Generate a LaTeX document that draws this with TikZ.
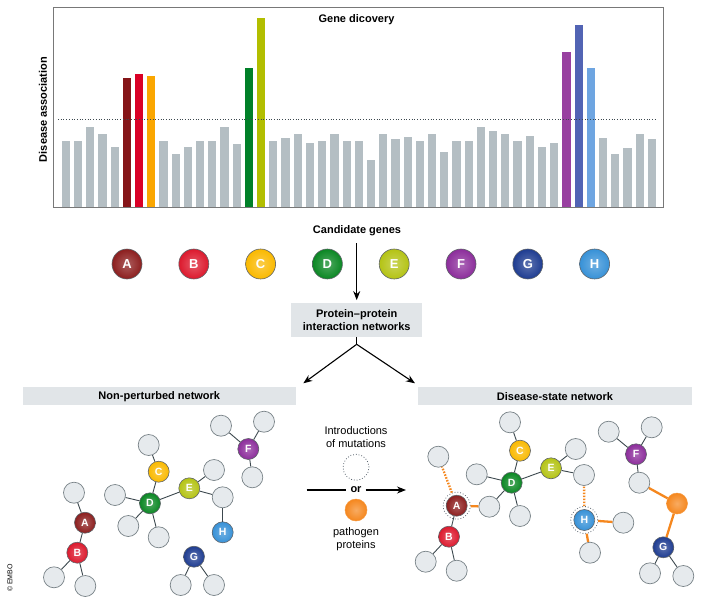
\documentclass[tikz,border=0pt]{standalone}
\usepackage{fontspec}
\setmainfont{Liberation Sans}
\usetikzlibrary{arrows.meta}
\definecolor{barg}{RGB}{180,190,195}
\definecolor{barA}{RGB}{133,21,24}
\definecolor{barB}{RGB}{218,0,38}
\definecolor{barC}{RGB}{250,166,0}
\definecolor{barD}{RGB}{0,128,40}
\definecolor{barE}{RGB}{178,190,0}
\definecolor{barF}{RGB}{152,64,160}
\definecolor{barG}{RGB}{82,100,180}
\definecolor{barH}{RGB}{110,165,225}
\definecolor{cA}{RGB}{140,30,30}
\definecolor{cB}{RGB}{220,25,45}
\definecolor{cC}{RGB}{250,185,0}
\definecolor{cD}{RGB}{10,135,35}
\definecolor{cE}{RGB}{180,195,20}
\definecolor{cF}{RGB}{140,45,155}
\definecolor{cG}{RGB}{30,60,145}
\definecolor{cH}{RGB}{55,145,215}
\definecolor{orng}{RGB}{245,135,30}
\definecolor{edgec}{RGB}{60,72,78}
\definecolor{gfill}{RGB}{230,234,237}
\definecolor{gstroke}{RGB}{120,130,135}
\definecolor{cstroke}{RGB}{95,100,105}
\definecolor{bandc}{RGB}{225,229,232}
\definecolor{ringc}{RGB}{90,100,110}
\definecolor{framec}{RGB}{120,120,120}
\begin{document}
\begin{tikzpicture}[x=1pt,y=-1pt,
  edge/.style={draw=edgec, line width=0.9pt},
  oedge/.style={draw=orng, line width=2.3pt},
  odot/.style={draw=orng, line width=2.3pt, dash pattern=on 1.6pt off 1.4pt},
  gnode/.style={circle, draw=gstroke, fill=gfill, line width=0.7pt, minimum size=21pt, inner sep=0pt},
  cnode/.style={circle, draw=cstroke, line width=0.6pt, minimum size=21pt, inner sep=0pt, text=white,
     font=\bfseries\fontsize{10.5}{10.5}\selectfont, inner color=#1!72!white, outer color=#1},
  bignode/.style={cnode=#1, minimum size=30pt, font=\bfseries\fontsize{13}{13}\selectfont},
  ring/.style={circle, draw=ringc, dotted, line width=0.8pt, minimum size=27pt, inner sep=0pt},
  band/.style={fill=bandc, inner sep=0pt, minimum height=17.7pt, minimum width=273.4pt, font=\bfseries\fontsize{11}{13}\selectfont},
  lbl/.style={font=\fontsize{11}{13.4}\selectfont, align=center},
  blbl/.style={font=\bfseries\fontsize{11}{13.4}\selectfont, align=center},
  arr/.style={-{Stealth[length=9pt,width=7pt]}, line width=1.1pt}]
\useasboundingbox (0,0) rectangle (712,605);
% ---------- bar chart ----------
\foreach \i/\t/\c in {0/140.7/barg,1/140.7/barg,2/127.3/barg,3/134/barg,4/147/barg,5/77.7/barA,6/74/barB,7/76.3/barC,8/140.7/barg,9/154/barg,10/147/barg,11/140.7/barg,12/140.7/barg,13/127.3/barg,14/144/barg,15/67.7/barD,16/18/barE,17/140.7/barg,18/137.7/barg,19/134/barg,20/142.7/barg,21/140.7/barg,22/134/barg,23/141.3/barg,24/140.7/barg,25/160.3/barg,26/134.3/barg,27/138.7/barg,28/137.3/barg,29/140.7/barg,30/134.3/barg,31/152.3/barg,32/140.7/barg,33/140.7/barg,34/127.3/barg,35/131/barg,36/134/barg,37/140.7/barg,38/136/barg,39/147/barg,40/142.7/barg,41/52/barF,42/24.7/barG,43/68/barH,44/137.7/barg,45/154.3/barg,46/147.7/barg,47/134.3/barg,48/138.7/barg}
  \fill[\c] ({61.7+12.21*\i},207) rectangle ({61.7+12.21*\i+8.2},\t);
\draw[framec, line width=0.8pt] (53,7.5) rectangle (663,207);
\draw[edgec, dotted, line width=0.7pt] (58,119) -- (657,119);
\node[blbl] (title) at (356.5,20) {Gene dicovery};
\node[blbl, rotate=90] (yl) at (43,109.5) {Disease association};
% ---------- candidate genes ----------
\node[blbl] (cand) at (357,230.5) {Candidate genes};
\foreach \L/\k in {A/0,B/1,C/2,D/3,E/4,F/5,G/6,H/7}
  \node[bignode=c\L] (g\L) at ({127+66.8*\k},264) {\L};
\node[blbl, fill=bandc, minimum width=131pt, minimum height=33.4pt, inner sep=0pt] (ppi) at (356.7,320) {Protein--protein\\interaction networks};
\draw[arr, shorten >=3pt] (356.7,243) -- (ppi.north);
\coordinate (split) at (356.7,344.3);
\coordinate (tl) at (303.3,383.3);
\coordinate (tr) at (415,383.3);
\draw[line width=1.1pt] (ppi.south) -- (split);
\draw[arr] (split) -- (tl);
\draw[arr] (split) -- (tr);
% ---------- bands ----------
\node[band] (bandL) at (159.3,396.2) {Non-perturbed network};
\node[band] (bandR) at (555,396.2) {Disease-state network};
% ---------- middle ----------
\node[lbl] (intro) at (356,437) {Introductions\\of mutations};
\node[ring, minimum size=26pt] (mut) at (356,467.3) {};
\node[font=\bfseries\fontsize{11}{11}\selectfont, fill=white, inner xsep=4pt, inner ysep=1pt] (or) at (356,490) {or};
\coordinate (ml) at (306.7,490);
\coordinate (mr) at (406,490);
\draw[line width=1.1pt] (ml) -- (or);
\draw[arr] (or) -- (mr);
\node[circle, minimum size=22pt, inner sep=0pt, inner color=orng!70!white, outer color=orng, draw=orng!85!white, line width=0.5pt] (path) at (356,510) {};
\node[lbl] (pathl) at (356,539.2) {pathogen\\proteins};
% ---------- non-perturbed network ----------
\node[cnode=cA] (nA) at (85,522.7) {A};
\node[cnode=cB] (nB) at (77.3,552.7) {B};
\node[cnode=cC] (nC) at (158.7,471.7) {C};
\node[cnode=cD] (nD) at (150,503.3) {D};
\node[cnode=cE] (nE) at (189.3,488.3) {E};
\node[cnode=cF] (nF) at (248.3,449) {F};
\node[cnode=cG] (nG) at (194,556.7) {G};
\node[cnode=cH] (nH) at (222.7,532.3) {H};
\node[gnode] (na1) at (74,492.7) {};
\node[gnode] (nb1) at (54,577.3) {};
\node[gnode] (nb2) at (85.3,586) {};
\node[gnode] (nc1) at (148.7,445) {};
\node[gnode] (nd1) at (115,495) {};
\node[gnode] (nd2) at (128.3,526) {};
\node[gnode] (nd3) at (158.7,537.3) {};
\node[gnode] (ne1) at (214,470) {};
\node[gnode] (ne2) at (222.7,497.3) {};
\node[gnode] (nf1) at (221,425.7) {};
\node[gnode] (nf2) at (264,421.7) {};
\node[gnode] (nf3) at (252.3,477.3) {};
\node[gnode] (ng1) at (180.7,585) {};
\node[gnode] (ng2) at (214,585) {};
\foreach \a/\b in {nA/na1,nA/nB,nB/nb1,nB/nb2,nC/nc1,nC/nD,nD/nd1,nD/nd2,nD/nd3,nD/nE,nE/ne1,nE/ne2,ne2/nH,nF/nf1,nF/nf2,nF/nf3,nG/ng1,nG/ng2}
  \draw[edge] (\a) -- (\b);
% ---------- disease-state network ----------
\node[cnode=cA] (sA) at (456.7,505.7) {A};
\node[cnode=cB] (sB) at (449,536.7) {B};
\node[cnode=cC] (sC) at (520,450.7) {C};
\node[cnode=cD] (sD) at (511.7,482.7) {D};
\node[cnode=cE] (sE) at (551,468.3) {E};
\node[cnode=cF] (sF) at (636,454.3) {F};
\node[cnode=cG] (sG) at (663.3,547.3) {G};
\node[cnode=cH] (sH) at (584.3,520) {H};
\node[circle, minimum size=21pt, inner sep=0pt, inner color=orng!70!white, outer color=orng, draw=orng!85!white, line width=0.5pt] (sP) at (677,503.5) {};
\node[ring] (rA) at (sA) {};
\node[ring] (rH) at (sH) {};
\node[gnode] (sa1) at (438.3,456.7) {};
\node[gnode] (sa2) at (489.3,506.7) {};
\node[gnode] (sb1) at (425.7,561.7) {};
\node[gnode] (sb2) at (456.7,570.7) {};
\node[gnode] (sc1) at (510,422.3) {};
\node[gnode] (sd1) at (476.7,474.3) {};
\node[gnode] (sd3) at (520,516) {};
\node[gnode] (se1) at (575.7,449) {};
\node[gnode] (se2) at (584,475) {};
\node[gnode] (sh1) at (623.3,522.7) {};
\node[gnode] (sh2) at (590,552.7) {};
\node[gnode] (sf1) at (608.7,431.7) {};
\node[gnode] (sf2) at (651.7,427.3) {};
\node[gnode] (sf3) at (639.3,482.7) {};
\node[gnode] (sg1) at (650,573.3) {};
\node[gnode] (sg2) at (683.3,576) {};
\foreach \a/\b in {sa2/sD,sA/sB,sB/sb1,sB/sb2,sC/sc1,sC/sD,sD/sd1,sD/sd3,sD/sE,sE/se1,sE/se2,sF/sf1,sF/sf2,sF/sf3,sG/sg1,sG/sg2}
  \draw[edge] (\a) -- (\b);
\draw[odot] (rA) -- (sa1);
\draw[odot] (rH) -- (se2);
\draw[oedge] (rA) -- (sa2);
\draw[oedge] (rH) -- (sh1);
\draw[oedge] (rH) -- (sh2);
\draw[oedge] (sf3) -- (sP);
\draw[oedge] (sP) -- (sG);
% ---------- copyright ----------
\node[rotate=90, font=\fontsize{7}{7}\selectfont] (copy) at (10,578) {© EMBO};
\end{tikzpicture}
\end{document}
